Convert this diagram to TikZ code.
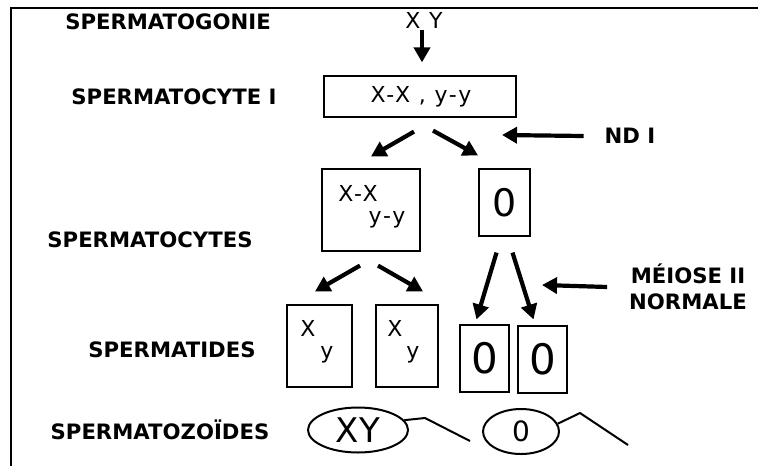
\documentclass[tikz,border=0pt]{standalone}
\usepackage{fontspec}
\setmainfont{DejaVu Sans}
\newfontfamily\chromfont[LetterSpace=8]{DejaVu Sans}
\usetikzlibrary{arrows.meta,shapes.geometric}

\tikzset{
  stage/.style={font=\bfseries\fontsize{10.6}{13}\selectfont, align=center},
  cell/.style={draw, line width=0.6pt, inner sep=0pt},
  chrom/.style={font=\chromfont\fontsize{11}{13}\selectfont, inner sep=1pt},
  nul/.style={font=\fontsize{#1}{#1}\selectfont, inner sep=0pt},
  fat/.style={line width=2.1pt, -{Triangle[length=7.5pt,width=8pt]}},
  tail/.style={line width=1pt},
}

\begin{document}
\begin{tikzpicture}[x=0.5pt, y=-0.5pt]
    \useasboundingbox (0,0) rectangle (758,466);

    % frame (cut at right and bottom)
    \draw[line width=1.2pt] (11,466) -- (11,8) -- (758,8);

    % stage names
    \node[stage] (lgon) at (168,22) {SPERMATOGONIE};
    \node[stage] (lsc1) at (174,97) {SPERMATOCYTE I};
    \node[stage] (lsc2) at (150,240) {SPERMATOCYTES};
    \node[stage] (lst)  at (172,350) {SPERMATIDES};
    \node[stage] (lsz)  at (160,430) {SPERMATOZO\"IDES};
    \node[stage] (ndI)  at (630,136) {ND I};
    \node[stage] (mei)  at (688,287) {MÉIOSE II\\NORMALE};

    % spermatogonie
    \node[chrom] (xy) at (424,20) {X Y};

    % spermatocyte I
    \node[cell, minimum width=96pt, minimum height=20.5pt] (sc1) at (420,96.5) {};
    \node[chrom] (sc1t) at (421,97) {X-X , y-y};

    % spermatocytes II
    \node[cell, minimum width=49pt, minimum height=41pt] (sc2a) at (371,210) {};
    \node[chrom] (sc2ax) at (358,193) {X-X};
    \node[chrom] (sc2ay) at (387,220) {y-y};
    \node[cell, nul=19, minimum width=25.5pt, minimum height=33.5pt] (sc2b) at (504.5,202.5) {0};

    % spermatides
    \node[cell, minimum width=32.5pt, minimum height=41pt] (st1) at (319.5,346) {};
    \node[chrom] (st1x) at (308,328) {X};
    \node[chrom] (st1y) at (327,355) {y};
    \node[cell, minimum width=31pt, minimum height=41pt] (st2) at (407,346) {};
    \node[chrom] (st2x) at (395,328) {X};
    \node[chrom] (st2y) at (413,355) {y};
    \node[cell, nul=21, minimum width=24.5pt, minimum height=33.5pt] (st3) at (484.5,358.5) {0};
    \node[cell, nul=21, minimum width=24.5pt, minimum height=33.5pt] (st4) at (542.5,359.5) {0};

    % spermatozoides
    \node[ellipse, draw, line width=1pt, inner sep=0pt, minimum width=50pt, minimum height=22.5pt,
          font=\fontsize{17}{17}\selectfont] (sz1) at (358,430) {XY};
    \draw[tail] (sz1.12) -- (425,418) -- (470,441);
    \node[ellipse, draw, line width=1pt, inner sep=0pt, minimum width=38pt, minimum height=22.5pt,
          font=\fontsize{14}{14}\selectfont] (sz2) at (521,431.5) {0};
    \draw[tail] (sz2.12) -- (580,413) -- (628,445);

    % arrows
    \coordinate (ndItip) at (502,135);
    \coordinate (meitip) at (542,285);
    \draw[fat, shorten >=6.5pt] ([xshift=-1pt]xy.south) -- ([xshift=-1pt]xy.south |- sc1.north);
    \draw[fat] ([xshift=-3pt,yshift=-7pt]sc1.south) -- ([yshift=6pt]sc2a.north);
    \draw[fat] ([xshift=6.5pt,yshift=-6.5pt]sc1.south) -- ([xshift=-13.25pt,yshift=6.5pt]sc2b.north);
    \draw[fat] ([xshift=-5.5pt,yshift=-7pt]sc2a.south) -- ([xshift=-2.25pt,yshift=6.5pt]st1.north);
    \draw[fat] ([xshift=3.5pt,yshift=-7pt]sc2a.south) -- ([xshift=8pt,yshift=6.5pt]st2.north);
    \draw[fat] ([xshift=-4pt,yshift=-8pt]sc2b.south) -- ([xshift=-4pt,yshift=2.5pt]st3.north);
    \draw[fat] ([xshift=4pt,yshift=-8pt]sc2b.south) -- ([xshift=-4.5pt,yshift=3pt]st4.north);
    \draw[fat] ([xshift=-7pt]ndI.west) -- (ndItip);
    \draw[fat] ([xshift=-7.5pt]mei.west) -- (meitip);
\end{tikzpicture}
\end{document}
